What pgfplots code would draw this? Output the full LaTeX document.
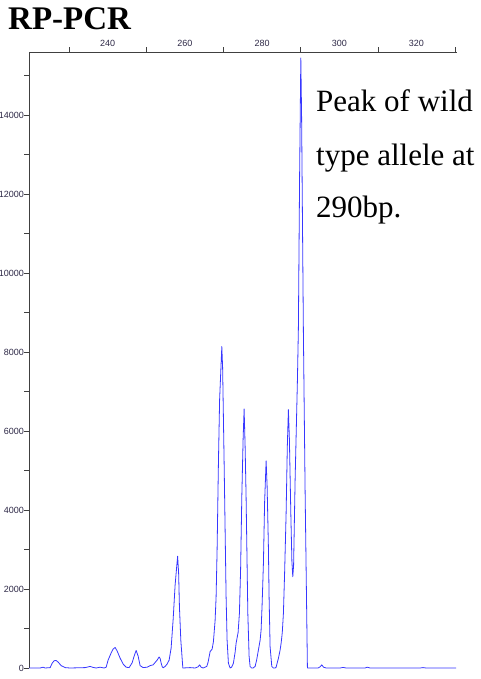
\documentclass[border=0pt]{standalone}
\usepackage{fontspec}
\setmainfont{Liberation Serif}
\newfontfamily\tickfont{Liberation Sans}
\usepackage{pgfplots}
\pgfplotsset{compat=1.18}
\definecolor{trace}{RGB}{55,55,255}
\definecolor{tickcol}{RGB}{45,40,70}
\begin{document}
\begin{tikzpicture}[x=1pt,y=1pt]
\useasboundingbox (-29,-11) rectangle (452,668);
\begin{axis}[
  at={(0,0)}, anchor=south west,
  scale only axis, width=428pt, height=616pt,
  xmin=219.6, xmax=330.5, ymin=0, ymax=15600,
  axis x line*=top, axis y line*=left,
  axis line style={black!75, line width=0.6pt},
  tick align=outside,
  major tick length=0pt, minor tick length=4.5pt,
  every tick/.style={black!75, line width=0.5pt},
  xtick={240,260,...,320},
  minor xtick={230,250,...,330},
  ytick={0,2000,...,14000},
  minor ytick={0,1000,...,15000},
  scaled y ticks=false,
  /pgf/number format/1000 sep={},
  /pgf/number format/assume math mode=true,
  ticklabel style={font=\tickfont\fontsize{9}{9}\selectfont, text=tickcol},
  xticklabel style={yshift=2pt},
  yticklabel style={xshift=-1.5pt},
  clip=false,
]
\addplot[trace, line width=0.8pt, line join=round, mark=none] coordinates {
(219.64,0) (222.49,0) (223.26,20) (223.78,0) (225.08,10) (225.60,120) (226.11,185) (226.63,190) (227.15,150) (227.93,60) (228.96,10) (230.26,0) (234.15,10) (235.44,40) (236.22,15) (237.00,0) (238.03,20) (239.07,0) (239.59,20) (240.10,200) (240.88,380) (241.40,480) (241.92,520) (242.44,430) (243.21,250) (243.99,100) (244.77,20) (245.54,10) (246.32,130) (246.84,300) (247.36,445) (247.88,300) (248.39,60) (249.17,10) (250.21,20) (250.98,60) (251.76,80) (252.28,140) (252.80,200) (253.32,280) (253.58,240) (253.83,130) (254.09,40) (254.35,5) (254.87,40) (255.39,100) (255.91,200) (256.42,500) (256.94,1215) (257.46,2100) (257.90,2600) (258.11,2830) (258.37,2400) (258.58,1550) (258.94,700) (259.46,0) (261.35,10) (262.64,0) (263.42,30) (263.81,80) (264.20,20) (264.72,0) (265.67,40) (266.01,150) (266.53,415) (267.05,480) (267.38,665) (267.82,1200) (268.08,1804) (268.34,3000) (268.68,5186) (268.99,6800) (269.56,8140) (269.77,7600) (270.16,5186) (270.67,1804) (270.93,700) (271.27,120) (271.71,0) (272.10,20) (272.56,120) (273.01,400) (273.26,625) (273.78,900) (274.12,1384) (274.43,2500) (274.74,4334) (275.08,5800) (275.34,6560) (275.60,5600) (275.85,4334) (276.30,1384) (276.63,300) (276.89,40) (277.28,0) (277.67,0) (278.19,40) (278.58,200) (279.04,455) (279.48,700) (279.74,960) (280.00,1600) (280.34,2650) (280.65,4200) (281.04,5245) (281.30,4600) (281.63,3070) (281.81,1800) (282.07,540) (282.51,40) (282.93,0) (283.37,0) (283.63,20) (284.22,245) (284.66,450) (284.92,625) (285.23,900) (285.52,1384) (285.83,2400) (286.22,3914) (286.53,5600) (286.81,6545) (287.07,5800) (287.44,3914) (287.72,2700) (287.95,2310) (288.16,2600) (288.55,4756) (289.15,7286) (289.40,8600) (289.72,12500) (290.03,15450) (290.23,14000) (290.70,8480) (291.14,4500) (291.74,0) (292.44,0) (294.51,0) (295.03,30) (295.47,80) (295.93,20) (296.58,0) (300.21,0) (300.98,15) (301.76,0) (306.68,0) (307.20,20) (307.98,0) (320.93,0) (321.71,10) (322.49,0) (330.26,0)
};
\end{axis}
\node[anchor=base west, inner sep=0pt, font=\fontsize{33}{33}\selectfont\bfseries] at (-21,638) {RP-PCR};
\node[anchor=base west, inner sep=0pt, font=\fontsize{31}{31}\selectfont] at (287,556) {Peak of wild};
\node[anchor=base west, inner sep=0pt, font=\fontsize{31}{31}\selectfont] at (287,502) {type allele at};
\node[anchor=base west, inner sep=0pt, font=\fontsize{31}{31}\selectfont] at (287,450) {290bp.};
\end{tikzpicture}
\end{document}
